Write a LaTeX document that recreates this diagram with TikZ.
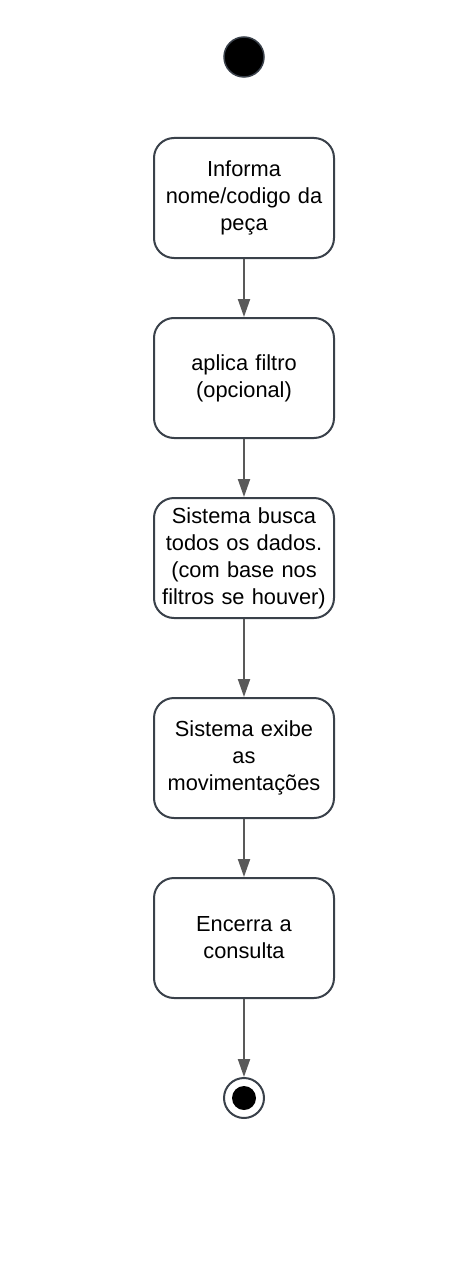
\documentclass[tikz,border=0pt]{standalone}
\usepackage{fontspec}
\setmainfont{Liberation Sans}
\usetikzlibrary{arrows.meta}
\definecolor{boxline}{HTML}{3A414A}
\definecolor{arrline}{HTML}{595959}
\tikzset{
  act/.style={draw=boxline, line width=2pt, rounded corners=20pt, minimum width=180pt, minimum height=120pt, align=center, text width=178pt, font=\fontsize{21.8pt}{27pt}\selectfont, inner sep=0pt},
  flow/.style={draw=arrline, line width=2pt, -{Triangle[width=12pt,length=18pt]}, shorten >=0pt}
}
\begin{document}
\begin{tikzpicture}[x=1pt,y=-1pt]
\useasboundingbox[fill=white] (0,0) rectangle (466,1265);
\node[circle, fill=black, draw=boxline, line width=1.5pt, minimum size=40pt, inner sep=0pt] (start) at (244,57) {};
\node[act] (a1) at (244,198) {\raisebox{2pt}{\parbox{178pt}{\centering Informa\\nome/codigo da\\peça}}};
\node[act] (a2) at (244,378) {\raisebox{2pt}{\parbox{178pt}{\centering aplica filtro\\(opcional)}}};
\node[act] (a3) at (244,558) {\raisebox{2pt}{\parbox{178pt}{\centering Sistema busca\\todos os dados.\\(com base nos\\filtros se houver)}}};
\node[act] (a4) at (244,758) {\raisebox{2pt}{\parbox{178pt}{\centering Sistema exibe\\as\\movimentações}}};
\node[act] (a5) at (244,938) {\raisebox{2pt}{\parbox{178pt}{\centering Encerra a\\consulta}}};
\node[circle, draw=boxline, line width=2pt, minimum size=40pt, inner sep=0pt] (endo) at (244,1098) {};
\node[circle, fill=black, minimum size=24pt, inner sep=0pt] (endi) at (244,1098) {};
\draw[flow] (a1) -- (a2);
\draw[flow] (a2) -- (a3);
\draw[flow] (a3) -- (a4);
\draw[flow] (a4) -- (a5);
\draw[flow] (a5) -- (endo);
\end{tikzpicture}
\end{document}
